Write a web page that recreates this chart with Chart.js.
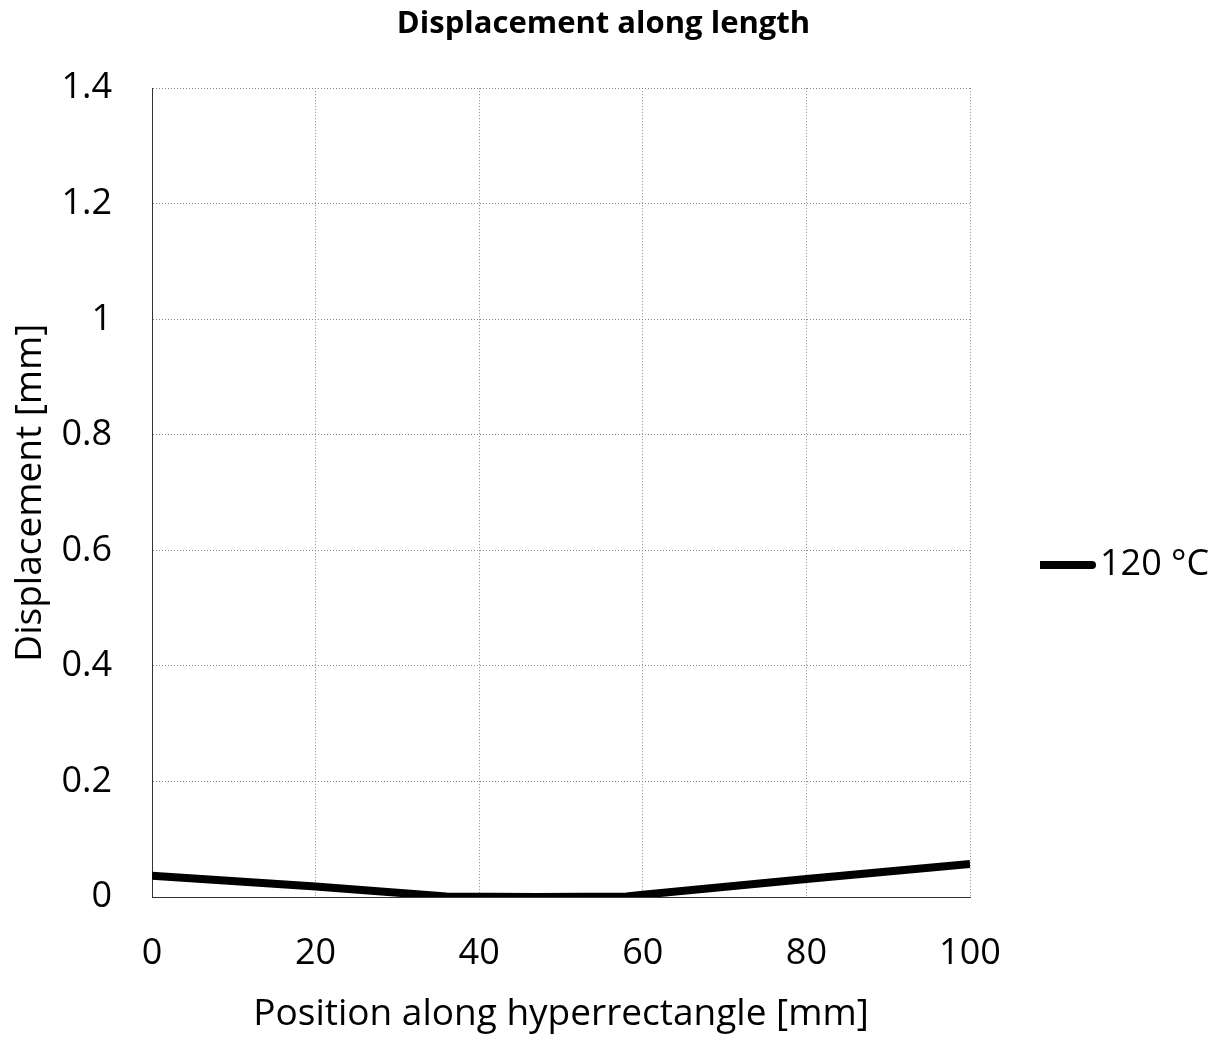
<!DOCTYPE html>
<html>
<head>
<meta charset="utf-8">
<script src="https://cdn.jsdelivr.net/npm/chart.js@4.4.1/dist/chart.umd.min.js"></script>
<style>
  html, body { margin: 0; padding: 0; background: #fff; }
  #wrap { width: 1227px; height: 1041px; }
</style>
</head>
<body>
<div id="wrap"><canvas id="myChart"></canvas></div>
<script>
const positions = [0, 20, 36, 47, 58, 60, 80, 100];
const displacement = [0.037, 0.018, 0.001, 0.0, 0.001, 0.004, 0.031, 0.057];
const seriesLabel = '120 °C';
const yTicks = [0, 0.2, 0.4, 0.6, 0.8, 1, 1.2, 1.4];

const fontFamily = '"Open Sans", "Noto Sans", sans-serif';

// short thick line used as the legend marker
const legendLine = document.createElement('canvas');
legendLine.width = 60;
legendLine.height = 10;
(() => {
    const c = legendLine.getContext('2d');
    c.strokeStyle = '#000';
    c.lineWidth = 8;
    c.lineCap = 'round';
    c.beginPath();
    c.moveTo(4, 5);
    c.lineTo(56, 5);
    c.stroke();
})();

const ctx = document.getElementById('myChart').getContext('2d');
const myChart = new Chart(ctx, {
    type: 'line',
    data: {
        datasets: [{
            label: seriesLabel,
            data: positions.map((p, i) => ({ x: p, y: displacement[i] })),
            borderColor: '#000',
            backgroundColor: '#000',
            borderWidth: 8,
            borderCapStyle: 'butt',
            borderJoinStyle: 'round',
            pointRadius: 0,
            tension: 0,
            fill: false
        }]
    },
    options: {
        responsive: true,
        maintainAspectRatio: false,
        animation: false,
        layout: { padding: { top: 3, left: 8, right: 0, bottom: 0 } },
        scales: {
            x: {
                type: 'linear',
                min: 0,
                max: 100,
                afterFit: axis => { axis.height = 144; },
                ticks: { stepSize: 20, color: '#000', padding: 35, font: { family: fontFamily, size: 36 } },
                grid: { color: '#888', lineWidth: 1, drawTicks: false },
                border: { display: true, color: '#333', dash: [1, 2] },
                title: { display: true, text: 'Position along hyperrectangle [mm]', color: '#000',
                         padding: { top: 17, bottom: 4 }, font: { family: fontFamily, size: 37 } }
            },
            y: {
                min: 0,
                max: 1.4,
                afterBuildTicks: axis => { axis.ticks = yTicks.map(v => ({ value: v })); },
                afterFit: axis => { axis.width = 144; },
                ticks: { color: '#000', padding: 40, font: { family: fontFamily, size: 36 },
                         callback: v => String(v) },
                grid: { color: '#888', lineWidth: 1, drawTicks: false },
                border: { display: true, color: '#333', dash: [1, 2] },
                title: { display: true, text: 'Displacement [mm]', color: '#000',
                         padding: { top: 0, bottom: 9 }, font: { family: fontFamily, size: 37 } }
            }
        },
        plugins: {
            legend: {
                position: 'right',
                align: 'center',
                labels: {
                    usePointStyle: true,
                    pointStyle: legendLine,
                    pointStyleWidth: 32,
                    boxHeight: 10,
                    padding: 10,
                    color: '#000',
                    font: { family: fontFamily, size: 36 }
                }
            },
            title: {
                display: true,
                text: 'Displacement along length',
                color: '#000',
                padding: { top: 0, bottom: 48 },
                font: { family: fontFamily, size: 31, weight: 'bold' }
            },
            tooltip: { enabled: false }
        }
    },
    plugins: [{
        id: 'legendPlacement',
        beforeLayout(chart) {
            const lg = chart.legend;
            if (lg && !lg._fitPatched) {
                const fit = lg.fit;
                lg.fit = function () {
                    fit.call(this);
                    this.width = 257;
                };
                lg._fitPatched = true;
            }
        },
        afterLayout(chart) {
            const lg = chart.legend;
            const dx = 1040 - lg.left;
            const dy = 43;
            lg.left += dx; lg.right += dx;
            lg.top += dy; lg.bottom += dy;
            const tb = chart.titleBlock;
            tb.left -= 14; tb.right -= 14;
            tb.top += 3; tb.bottom += 3;
        }
    }]
});
</script>
</body>
</html>
